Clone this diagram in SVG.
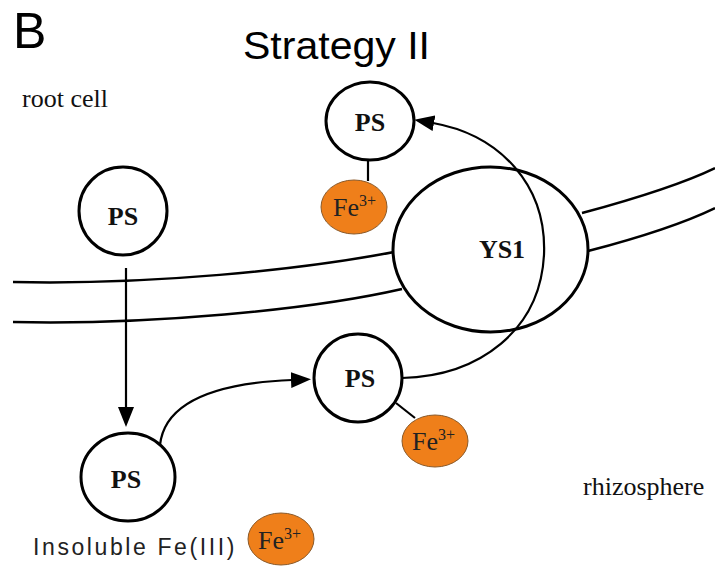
<svg xmlns="http://www.w3.org/2000/svg" width="715" height="567" viewBox="0 0 715 567">
<style>
.node{fill:#fff;stroke:#000;stroke-width:3}
.fe{fill:#EF7F1A;stroke:#8a5a2a;stroke-width:1}
.ps{font-family:"Liberation Serif",serif;font-weight:bold;font-size:26px;text-anchor:middle;fill:#111}
.fet{font-family:"Liberation Serif",serif;font-size:26px;fill:#222}
.lbl{font-family:"Liberation Serif",serif;font-size:26px;fill:#111}
.mem{fill:none;stroke:#000;stroke-width:2.5}
.con{fill:none;stroke:#000;stroke-width:2.2}
</style>
<defs>
<marker id="ah" markerUnits="userSpaceOnUse" viewBox="0 0 20 16" markerWidth="20" markerHeight="16" refX="1" refY="8" orient="auto">
<path d="M0,0 L20,8 L0,16 Z" fill="#000"/>
</marker>
</defs>
<rect width="715" height="567" fill="#fff"/>
<text x="13" y="48" font-family="'Liberation Sans',Arial,sans-serif" font-size="50" fill="#000">B</text>
<text x="243" y="59" font-family="'Liberation Sans',Arial,sans-serif" font-size="38" textLength="187" lengthAdjust="spacingAndGlyphs" fill="#000">Strategy II</text>
<text class="lbl" x="22" y="107">root cell</text>
<text class="lbl" x="583" y="495">rhizosphere</text>
<text x="33" y="555" font-family="'Liberation Sans',Arial,sans-serif" font-size="23" letter-spacing="2.6" fill="#222">Insoluble Fe(III)</text>

<g id="membrane">
<path class="mem" d="M13,282 C150,285 300,270 394,252"/>
<path class="mem" d="M13,322 C150,325 310,310 402,289"/>
<path class="mem" d="M582,213 C630,200 680,185 715,168"/>
<path class="mem" d="M588,251 C630,240 680,225 715,208"/>
</g>

<g id="ys1">
<ellipse class="node" cx="490.5" cy="249.5" rx="97.5" ry="82.5"/>
<text class="ps" x="502" y="258" font-size="26">YS1</text>
</g>

<g id="ps-top">
<ellipse class="node" cx="370" cy="121" rx="44" ry="39"/>
<text class="ps" x="370" y="131">PS</text>
</g>
<g id="fe-top">
<ellipse class="fe" cx="354" cy="207" rx="33" ry="27"/>
<text class="fet" x="333" y="216">Fe<tspan font-size="16" dy="-10">3+</tspan></text>
</g>

<g id="ps-root">
<ellipse class="node" cx="123" cy="211" rx="44" ry="44"/>
<text class="ps" x="123" y="225">PS</text>
</g>

<g id="ps-mid">
<ellipse class="node" cx="358" cy="378" rx="44" ry="44"/>
<text class="ps" x="360" y="387">PS</text>
</g>
<g id="fe-mid">
<ellipse class="fe" cx="435" cy="441" rx="33" ry="26"/>
<text class="fet" x="412" y="450">Fe<tspan font-size="16" dy="-10">3+</tspan></text>
</g>

<g id="ps-bottom">
<ellipse class="node" cx="128" cy="477" rx="47" ry="44"/>
<text class="ps" x="126" y="488">PS</text>
</g>
<g id="fe-bottom">
<ellipse class="fe" cx="281" cy="539" rx="33" ry="26"/>
<text class="fet" x="258" y="549">Fe<tspan font-size="16" dy="-10">3+</tspan></text>
</g>

<g id="connectors">
<line class="con" x1="368" y1="160" x2="368" y2="181"/>
<line class="con" x1="396" y1="403" x2="415" y2="418"/>
<path class="con" d="M126,268 L126,408" marker-end="url(#ah)"/>
<path class="con" d="M160,445 C165,400 220,383 292,380" marker-end="url(#ah)"/>
<path class="con" d="M402,378 C480,376 540,330 544,255 C547,185 500,135 433,123" marker-end="url(#ah)"/>
</g>
</svg>
